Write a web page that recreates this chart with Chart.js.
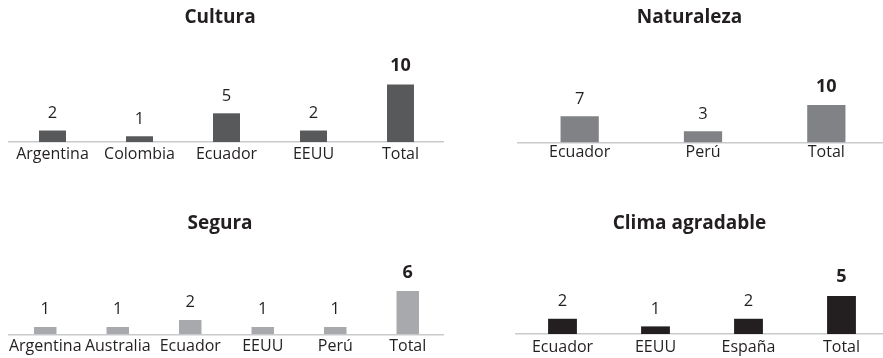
<!DOCTYPE html>
<html lang="es">
<head>
<meta charset="utf-8">
<title>Motivos de viaje</title>
<script src="https://cdn.jsdelivr.net/npm/chart.js@4.4.1/dist/chart.umd.min.js"></script>
<style>
  html, body { margin: 0; padding: 0; background: #fff; overflow: hidden; width: 883px; height: 358px; }
  .panel { position: absolute; }
</style>
</head>
<body>
<div class="panel" style="left:-4px;top:0;width:448px;height:180px"><canvas id="culturaChart"></canvas></div>
<div class="panel" style="left:491px;top:0;width:397px;height:180px"><canvas id="naturalezaChart"></canvas></div>
<div class="panel" style="left:-4px;top:180px;width:448px;height:178px"><canvas id="seguraChart"></canvas></div>
<div class="panel" style="left:491px;top:180px;width:397px;height:178px"><canvas id="climaChart"></canvas></div>

<script>
// respuestas por motivo y país
const culturaLabels = ['Argentina', 'Colombia', 'Ecuador', 'EEUU', 'Total'];
const culturaValues = [2, 1, 5, 2, 10];

const naturalezaLabels = ['Ecuador', 'Perú', 'Total'];
const naturalezaValues = [7, 3, 10];

const seguraLabels = ['Argentina', 'Australia', 'Ecuador', 'EEUU', 'Perú', 'Total'];
const seguraValues = [1, 1, 2, 1, 1, 6];

const climaLabels = ['Ecuador', 'EEUU', 'España', 'Total'];
const climaValues = [2, 1, 2, 5];

const FONT = '"Open Sans", "DejaVu Sans", sans-serif';
const TEXT = '#231f20';
const AXIS = '#c9cacc';

// number above each bar, the last one (Total) in bold
const valueLabels = {
  id: 'valueLabels',
  afterDatasetsDraw(chart) {
    const ctx = chart.ctx;
    const values = chart.data.datasets[0].data;
    const last = values.length - 1;
    ctx.save();
    ctx.fillStyle = TEXT;
    ctx.textAlign = 'center';
    ctx.textBaseline = 'alphabetic';
    chart.getDatasetMeta(0).data.forEach((bar, i) => {
      const isTotal = i === last;
      ctx.font = isTotal ? `bold 18px ${FONT}` : `16.5px ${FONT}`;
      ctx.fillText(String(values[i]), bar.x, bar.y - (isTotal ? 13.5 : 12.7));
    });
    ctx.restore();
  }
};

function makeChart(id, title, labels, values, color, o) {
  return new Chart(document.getElementById(id), {
    type: 'bar',
    data: {
      labels,
      datasets: [{
        data: values,
        backgroundColor: color,
        borderWidth: 0,
        barPercentage: 0.31,
        categoryPercentage: 1,
      }]
    },
    options: {
      responsive: true,
      maintainAspectRatio: false,
      animation: false,
      layout: { padding: 0 },
      plugins: {
        legend: { display: false },
        tooltip: { enabled: false },
        title: {
          display: true,
          text: title,
          color: TEXT,
          font: { family: FONT, size: 19, weight: 'bold' },
          padding: { top: o.titleTop, bottom: o.titleBottom },
        },
      },
      scales: {
        x: {
          grid: { display: false, drawTicks: false },
          border: { display: true, color: AXIS, width: 1.5 },
          ticks: {
            color: TEXT,
            padding: o.tickPad,
            autoSkip: false,
            maxRotation: 0,
            minRotation: 0,
            font: { family: FONT, size: 16 },
          },
          // the axis band fills everything below the baseline
          afterFit: s => { s.height = o.axisH; },
        },
        y: {
          position: 'left',
          min: 0,
          max: o.yMax,
          grid: { display: false },
          border: { display: false },
          ticks: { display: false },
          afterFit: s => { s.width = o.axisW; },
        }
      }
    },
    plugins: [valueLabels]
  });
}

makeChart('culturaChart', 'Cultura', culturaLabels, culturaValues, '#58595b',
  { axisH: 38, titleTop: 6, titleBottom: 11.2, yMax: 17.77, axisW: 13, tickPad: 2.6 });
makeChart('naturalezaChart', 'Naturaleza', naturalezaLabels, naturalezaValues, '#808285',
  { axisH: 37.5, titleTop: 6, titleBottom: 11.2, yMax: 27.4, axisW: 27, tickPad: 0.6 });
makeChart('seguraChart', 'Segura', seguraLabels, seguraValues, '#a7a9ac',
  { axisH: 23.7, titleTop: 32.6, titleBottom: 14.6, yMax: 11.7, axisW: 13, tickPad: 3 });
makeChart('climaChart', 'Clima agradable', climaLabels, climaValues, '#231f20',
  { axisH: 24, titleTop: 32.6, titleBottom: 14.6, yMax: 11.03, axisW: 25, tickPad: 3.5 });
</script>
</body>
</html>
